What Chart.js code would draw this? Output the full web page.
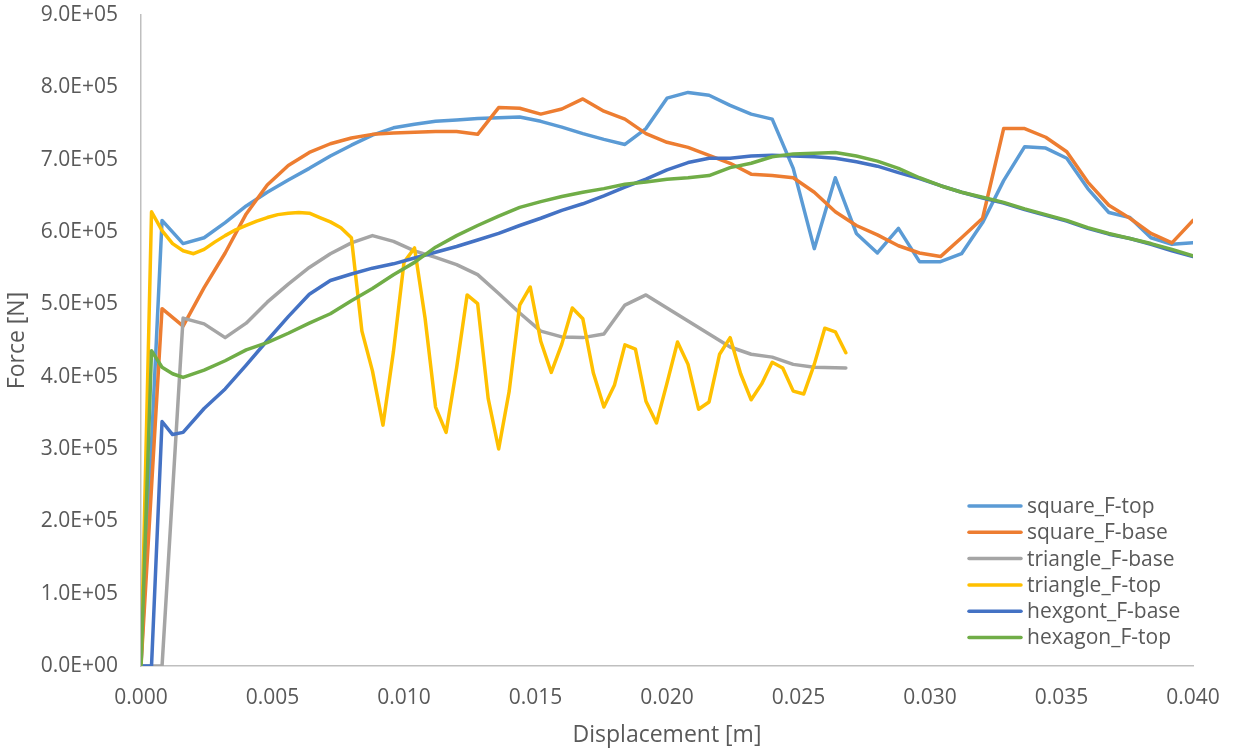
<!DOCTYPE html>
<html>
<head>
<meta charset="utf-8">
<script src="https://cdn.jsdelivr.net/npm/chart.js@4"></script>
<style>
  html, body { margin: 0; padding: 0; background: #fff; }
</style>
</head>
<body>
<canvas id="forceChart" width="1234" height="755"></canvas>
<script>
// displacement [m] sample points
const dispStep = [0,0.0008,0.0016,0.0024,0.0032,0.004,0.0048,0.0056,0.0064,0.0072,0.008,0.0088,0.0096,0.0104,0.0112,0.012,0.0128,0.0136,0.0144,0.0152,0.016,0.0168,0.0176,0.0184,0.0192,0.02,0.0208,0.0216,0.0224,0.0232,0.024,0.0248,0.0256,0.0264,0.0272,0.028,0.0288,0.0296,0.0304,0.0312,0.032,0.0328,0.0336,0.0344,0.0352,0.036,0.0368,0.0376,0.0384,0.0392,0.04];
const triBaseDisp = [0,0.0008,0.0016,0.0024,0.0032,0.004,0.0048,0.0056,0.0064,0.0072,0.008,0.0088,0.0096,0.0104,0.0112,0.012,0.0128,0.0136,0.0144,0.0152,0.016,0.0168,0.0176,0.0184,0.0192,0.02,0.0208,0.0216,0.0224,0.0232,0.024,0.0248,0.0256,0.0268];
const triTopDisp = [0,0.0004,0.0008,0.0012,0.0016,0.002,0.0024,0.0028,0.0032,0.0036,0.004,0.0044,0.0048,0.0052,0.0056,0.006,0.0064,0.0068,0.0072,0.0076,0.008,0.0084,0.0088,0.0092,0.0096,0.01,0.0104,0.0108,0.0112,0.0116,0.012,0.0124,0.0128,0.0132,0.0136,0.014,0.0144,0.0148,0.0152,0.0156,0.016,0.0164,0.0168,0.0172,0.0176,0.018,0.0184,0.0188,0.0192,0.0196,0.02,0.0204,0.0208,0.0212,0.0216,0.022,0.0224,0.0228,0.0232,0.0236,0.024,0.0244,0.0248,0.0252,0.0256,0.026,0.0264,0.0268];
const hexDisp = [0,0.0004,0.0008,0.0012,0.0016,0.0024,0.0032,0.004,0.0048,0.0056,0.0064,0.0072,0.008,0.0088,0.0096,0.0104,0.0112,0.012,0.0128,0.0136,0.0144,0.0152,0.016,0.0168,0.0176,0.0184,0.0192,0.02,0.0208,0.0216,0.0224,0.0232,0.024,0.0248,0.0256,0.0264,0.0272,0.028,0.0288,0.0296,0.0304,0.0312,0.032,0.0328,0.0336,0.0344,0.0352,0.036,0.0368,0.0376,0.0384,0.0392,0.04];

// force [N]
const squareTop = [0,6.16e5,5.84e5,5.92e5,6.13e5,6.36e5,6.55e5,6.72e5,6.88e5,7.05e5,7.20e5,7.34e5,7.44e5,7.49e5,7.53e5,7.55e5,7.57e5,7.58e5,7.59e5,7.53e5,7.45e5,7.36e5,7.28e5,7.21e5,7.43e5,7.85e5,7.93e5,7.89e5,7.75e5,7.63e5,7.56e5,6.88e5,5.77e5,6.75e5,5.98e5,5.71e5,6.05e5,5.59e5,5.59e5,5.70e5,6.13e5,6.71e5,7.18e5,7.16e5,7.02e5,6.60e5,6.27e5,6.20e5,5.92e5,5.83e5,5.85e5];
const squareBase = [0,4.94e5,4.70e5,5.23e5,5.71e5,6.25e5,6.65e5,6.92e5,7.10e5,7.22e5,7.30e5,7.35e5,7.37e5,7.38e5,7.39e5,7.39e5,7.35e5,7.72e5,7.71e5,7.63e5,7.70e5,7.84e5,7.67e5,7.56e5,7.36e5,7.24e5,7.17e5,7.06e5,6.95e5,6.80e5,6.78e5,6.75e5,6.55e5,6.28e5,6.09e5,5.96e5,5.81e5,5.71e5,5.66e5,5.92e5,6.19e5,7.43e5,7.43e5,7.31e5,7.11e5,6.69e5,6.37e5,6.19e5,5.98e5,5.85e5,6.16e5];
const triangleBase = [0,0,4.81e5,4.73e5,4.54e5,4.74e5,5.03e5,5.28e5,5.51e5,5.70e5,5.85e5,5.95e5,5.87e5,5.74e5,5.65e5,5.55e5,5.41e5,5.15e5,4.88e5,4.63e5,4.55e5,4.54e5,4.59e5,4.99e5,5.13e5,4.95e5,4.77e5,4.59e5,4.41e5,4.31e5,4.27e5,4.17e5,4.13e5,4.12e5];
const triangleTop = [0,6.28e5,6.02e5,5.84e5,5.74e5,5.70e5,5.76e5,5.86e5,5.95e5,6.03e5,6.09e5,6.15e5,6.20e5,6.24e5,6.26e5,6.27e5,6.26e5,6.20e5,6.14e5,6.06e5,5.92e5,4.63e5,4.08e5,3.33e5,4.35e5,5.58e5,5.78e5,4.81e5,3.58e5,3.23e5,4.12e5,5.13e5,5.01e5,3.70e5,3.00e5,3.80e5,4.99e5,5.24e5,4.49e5,4.06e5,4.45e5,4.95e5,4.80e5,4.05e5,3.58e5,3.88e5,4.44e5,4.38e5,3.66e5,3.36e5,3.91e5,4.48e5,4.17e5,3.55e5,3.65e5,4.31e5,4.54e5,4.04e5,3.68e5,3.90e5,4.20e5,4.12e5,3.80e5,3.76e5,4.17e5,4.67e5,4.62e5,4.33e5];
const hexBase = [0,0,3.38e5,3.20e5,3.23e5,3.56e5,3.83e5,4.16e5,4.50e5,4.83e5,5.14e5,5.33e5,5.42e5,5.50e5,5.56e5,5.64e5,5.72e5,5.80e5,5.89e5,5.98e5,6.09e5,6.19e5,6.30e5,6.39e5,6.50e5,6.62e5,6.73e5,6.86e5,6.96e5,7.02e5,7.02e5,7.05e5,7.06e5,7.05e5,7.04e5,7.02e5,6.97e5,6.91e5,6.82e5,6.74e5,6.64e5,6.55e5,6.47e5,6.40e5,6.31e5,6.23e5,6.15e5,6.05e5,5.97e5,5.91e5,5.83e5,5.74e5,5.66e5];
const hexTop = [0,4.36e5,4.13e5,4.04e5,3.99e5,4.09e5,4.22e5,4.37e5,4.47e5,4.60e5,4.74e5,4.87e5,5.05e5,5.22e5,5.41e5,5.58e5,5.79e5,5.95e5,6.09e5,6.22e5,6.34e5,6.42e5,6.49e5,6.55e5,6.60e5,6.66e5,6.69e5,6.73e5,6.75e5,6.78e5,6.89e5,6.95e5,7.04e5,7.08e5,7.09e5,7.10e5,7.05e5,6.98e5,6.88e5,6.75e5,6.64e5,6.55e5,6.48e5,6.41e5,6.32e5,6.24e5,6.16e5,6.06e5,5.98e5,5.91e5,5.84e5,5.76e5,5.67e5];

const seriesNames = ["square_F-top", "square_F-base", "triangle_F-base", "triangle_F-top", "hexgont_F-base", "hexagon_F-top"];
const seriesColors = ["#5B9BD5", "#ED7D31", "#A5A5A5", "#FFC000", "#4472C4", "#70AD47"];
const seriesX = [dispStep, dispStep, triBaseDisp, triTopDisp, hexDisp, hexDisp];
const seriesY = [squareTop, squareBase, triangleBase, triangleTop, hexBase, hexTop];

const textColor = "#595959";
const fontName = "'Open Sans', sans-serif";

function toPoints(xs, ys) {
  return xs.map((x, i) => ({ x: x, y: ys[i] }));
}

// legend drawn inside the plot, bottom right
const insideLegend = {
  id: "insideLegend",
  afterDraw(chart) {
    const c = chart.ctx;
    c.save();
    c.font = "21px " + fontName;
    c.textBaseline = "middle";
    c.lineCap = "round";
    chart.data.datasets.forEach((ds, i) => {
      const y = 506 + i * 26.3;
      c.strokeStyle = ds.borderColor;
      c.lineWidth = 3.5;
      c.beginPath();
      c.moveTo(969, y);
      c.lineTo(1021, y);
      c.stroke();
      c.fillStyle = textColor;
      c.fillText(ds.label, 1027, y + 1);
    });
    c.restore();
  }
};

const ctx = document.getElementById("forceChart").getContext("2d");

new Chart(ctx, {
  type: "scatter",
  data: {
    datasets: seriesNames.map((name, i) => ({
      label: name,
      data: toPoints(seriesX[i], seriesY[i]),
      showLine: true,
      borderColor: seriesColors[i],
      backgroundColor: seriesColors[i],
      borderWidth: 3.5,
      pointRadius: 0,
      tension: 0,
      borderJoinStyle: "round",
      borderCapStyle: "round",
      order: 6 - i
    }))
  },
  options: {
    responsive: false,
    animation: false,
    layout: { padding: { left: 0, right: 41, top: 15, bottom: 0 } },
    plugins: {
      legend: { display: false },
      tooltip: { enabled: false }
    },
    scales: {
      x: {
        type: "linear",
        min: 0,
        max: 0.04,
        afterFit: s => { s.height = 89; s.paddingLeft = 0; s.paddingRight = 0; },
        grid: { display: false, drawTicks: false },
        border: { display: true, color: "#BFBFBF", width: 1.5 },
        ticks: {
          stepSize: 0.005,
          padding: 19,
          color: textColor,
          font: { family: fontName, size: 21 },
          callback: v => v.toFixed(3)
        },
        title: {
          display: true,
          text: "Displacement [m]",
          color: textColor,
          font: { family: fontName, size: 23 },
          padding: { top: 6, bottom: 6 }
        }
      },
      y: {
        min: 0,
        max: 900000,
        afterFit: s => { s.width = 141; s.paddingTop = 0; s.paddingBottom = 0; },
        grid: { display: false, drawTicks: false },
        border: { display: true, color: "#BFBFBF", width: 1.5 },
        ticks: {
          stepSize: 100000,
          padding: 23,
          color: textColor,
          font: { family: fontName, size: 21 },
          callback: v => v === 0 ? "0.0E+00" : (v / 100000).toFixed(1) + "E+05"
        },
        title: {
          display: true,
          text: "Force [N]",
          color: textColor,
          font: { family: fontName, size: 23 },
          padding: { top: 4, bottom: 4 }
        }
      }
    }
  },
  plugins: [insideLegend]
});
</script>
</body>
</html>
